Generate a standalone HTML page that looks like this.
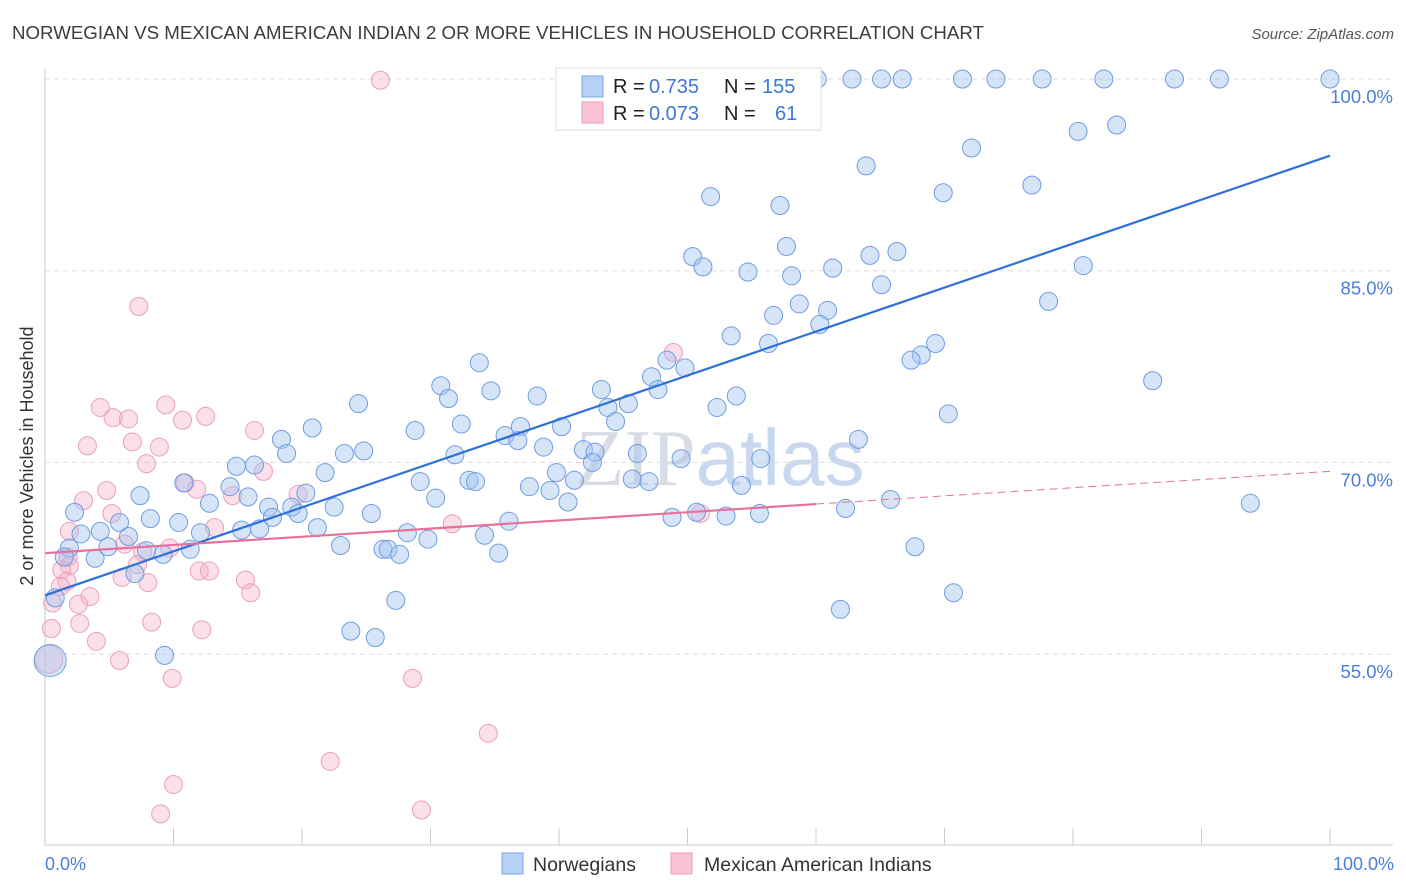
<!DOCTYPE html>
<html><head><meta charset="utf-8"><style>
body{margin:0;background:#fff;font-family:"Liberation Sans",sans-serif;}
#wrap{position:relative;width:1406px;height:892px;overflow:hidden;}
</style></head><body>
<div id="wrap">
<svg id="svg" width="1406" height="892" xmlns="http://www.w3.org/2000/svg">
<text x="12" y="39" font-size="18.7" fill="#3c3c3c">NORWEGIAN VS MEXICAN AMERICAN INDIAN 2 OR MORE VEHICLES IN HOUSEHOLD CORRELATION CHART</text>
<text x="1394" y="39" font-size="15" font-style="italic" fill="#555" text-anchor="end">Source: ZipAtlas.com</text>
<text transform="translate(33,456) rotate(-90)" font-size="18" fill="#333" text-anchor="middle">2 or more Vehicles in Household</text>
<text x="720" y="485" font-size="80" fill="#d8dce4" text-anchor="middle" font-family="Liberation Serif,serif">ZIP<tspan fill="#c8d8f0" font-family="Liberation Sans,sans-serif">atlas</tspan></text>
<g id="grid"></g><g id="pts"></g><g id="lines"></g>
<g>
<rect x="556" y="68" width="265" height="62" fill="#fff" stroke="#ddd"/>
<rect x="582" y="76" width="21" height="21" fill="#b7d0f5" stroke="#7aa4e6"/>
<rect x="582" y="102" width="21" height="21" fill="#f9c4d4" stroke="#ee9ab6"/>
<text x="613" y="93" font-size="20" fill="#222">R = <tspan x="649" fill="#3a78d8">0.735</tspan><tspan x="724">N = </tspan><tspan x="762" fill="#3a78d8">155</tspan></text>
<text x="613" y="120" font-size="20" fill="#222">R = <tspan x="649" fill="#3a78d8">0.073</tspan><tspan x="724">N = </tspan><tspan x="775" fill="#3a78d8">61</tspan></text>
</g>
<g>
<rect x="502" y="853" width="21" height="21" fill="#b7d0f5" stroke="#7aa4e6"/>
<text x="533" y="871" font-size="19.5" fill="#333">Norwegians</text>
<rect x="671" y="853" width="21" height="21" fill="#f9c4d4" stroke="#ee9ab6"/>
<text x="704" y="871" font-size="19.5" fill="#333">Mexican American Indians</text>
</g>
<text x="45" y="870" font-size="18" fill="#4a7fd8">0.0%</text>
<text x="1394" y="870" font-size="18" fill="#4a7fd8" text-anchor="end">100.0%</text>
</svg>
</div>
<script>
const yTicks=[100,85,70,55];
const yTickLabels=["100.0%","85.0%","70.0%","55.0%"];
const xTicks=[0,10,20,30,40,50,60,70,80,90,100];
const blueX=[100,91.4,87.9,82.4,77.6,74.0,71.4,66.7,65.1,62.8,60.1,83.4,80.4,72.1,63.9,76.8,69.9,51.8,57.2,66.3,64.2,57.7,50.4,51.2,54.7,58.1,61.3,80.8,65.1,78.1,58.7,60.9,56.7,60.3,53.4,56.3,69.3,68.2,67.4,48.4,49.8,33.8,86.2,30.8,34.7,31.4,43.3,47.2,47.7,38.3,53.8,24.4,45.4,43.8,52.3,70.3,32.4,44.4,37.0,20.8,28.8,18.4,35.8,36.8,40.2,63.3,18.8,38.8,31.9,41.9,42.8,49.5,42.6,46.1,55.7,24.8,23.3,14.9,16.3,21.8,39.8,33.0,33.5,41.2,45.7,47.0,54.2,37.7,39.3,40.7,29.2,30.4,14.4,15.8,10.8,7.4,20.3,12.8,17.4,17.7,19.2,19.7,22.5,25.4,65.8,93.8,62.3,36.1,21.2,10.4,8.2,5.8,2.3,15.3,16.7,12.1,28.2,29.8,34.2,4.3,2.8,6.5,9.2,7.9,11.3,23.0,26.3,26.7,27.6,35.3,50.7,48.8,53.0,55.6,67.7,1.9,1.5,3.9,4.9,7.0,0.8,27.3,61.9,70.7,23.8,25.7,9.3,0.4];
const blueY=[100,100,100,100,100,100,100,100,100,100,100,96.4,95.9,94.6,93.2,91.7,91.1,90.8,90.1,86.5,86.2,86.9,86.1,85.3,84.9,84.6,85.2,85.4,83.9,82.6,82.4,81.9,81.5,80.8,79.9,79.3,79.3,78.4,78.0,78.0,77.4,77.8,76.4,76.0,75.6,75.0,75.7,76.7,75.7,75.2,75.2,74.6,74.6,74.3,74.3,73.8,73.0,73.2,72.8,72.7,72.5,71.8,72.1,71.7,72.8,71.8,70.7,71.2,70.6,71.0,70.8,70.3,70.0,70.7,70.3,70.9,70.7,69.7,69.8,69.2,69.2,68.6,68.5,68.6,68.7,68.5,68.2,68.1,67.8,66.9,68.5,67.2,68.1,67.3,68.4,67.4,67.6,66.8,66.5,65.7,66.5,66.0,66.5,66.0,67.1,66.8,66.4,65.4,64.9,65.3,65.6,65.3,66.1,64.7,64.8,64.5,64.5,64.0,64.3,64.6,64.4,64.2,62.8,63.1,63.2,63.5,63.2,63.2,62.8,62.9,66.1,65.7,65.8,66.0,63.4,63.3,62.6,62.5,63.4,61.3,59.4,59.2,58.5,59.8,56.8,56.3,54.9,54.5];
const pinkX=[26.1,7.3,4.3,5.3,6.5,9.4,10.7,12.5,3.3,6.8,8.9,7.9,16.3,17.0,10.9,11.8,14.6,19.7,3.0,4.8,5.2,1.9,13.2,6.2,7.6,9.7,31.7,51.0,48.9,1.8,1.9,7.2,1.3,1.7,1.2,6.0,8.0,15.6,12.0,12.8,16.0,3.5,2.6,0.6,0.5,2.7,8.3,12.2,4.0,5.8,9.9,28.6,34.5,22.2,10.0,9.0,29.3,0.3];
const pinkY=[99.9,82.2,74.3,73.5,73.4,74.5,73.3,73.6,71.3,71.6,71.2,69.9,72.5,69.3,68.4,67.9,67.4,67.5,67.0,67.8,66.0,64.6,64.9,63.6,63.0,63.3,65.2,66.0,78.6,62.6,61.9,62.0,61.6,60.7,60.3,61.0,60.6,60.8,61.5,61.5,59.8,59.5,58.9,59.0,57.0,57.4,57.5,56.9,56.0,54.5,53.1,53.1,48.8,46.6,44.8,42.5,42.8,54.6];
const blueLine=[59.6,94.0];
const pinkLine=[62.9,69.3];
const pinkSolidEnd=60;
const NS="http://www.w3.org/2000/svg";
const xs=v=>45+v*12.85, ys=v=>79+(100-v)*12.78;
function mk(t,a,p){const e=document.createElementNS(NS,t);for(const k in a)e.setAttribute(k,a[k]);p.appendChild(e);return e;}
const grid=document.getElementById('grid');
yTicks.forEach((t,i)=>{
 const l=mk('line',{x1:45,x2:1393,y1:ys(t),y2:ys(t),stroke:'#ddd','stroke-dasharray':'5,4'},grid);
 
 
 const tx=mk('text',{x:1393,y:ys(t)+24,'font-size':18.5,fill:'#4a7fd8','text-anchor':'end'},grid);
 tx.textContent=yTickLabels[i];
 
 
});
mk('line',{x1:45,x2:45,y1:68,y2:845,stroke:'#ccc'},grid);
mk('line',{x1:45,x2:1393,y1:845,y2:845,stroke:'#ccc'},grid);
xTicks.forEach(t=>{const l=mk('line',{x1:xs(t),x2:xs(t),y1:828,y2:845,stroke:'#ccc'},grid);
 
 });
const pts=document.getElementById('pts');
pinkX.forEach((x,i)=>{const r=(i==pinkX.length-1)?14:9;
 const c=mk('circle',{cx:xs(x),cy:ys(pinkY[i]),r:r,fill:'rgba(246,175,200,0.4)',stroke:'#eaa0bc','stroke-width':1},pts);
 
 });
blueX.forEach((x,i)=>{const r=(i==blueX.length-1)?16:9;
 const c=mk('circle',{cx:xs(x),cy:ys(blueY[i]),r:r,fill:'rgba(165,195,240,0.45)',stroke:'#6f9de0','stroke-width':1},pts);
 
 });
const lines=document.getElementById('lines');
const pl=v=>pinkLine[0]+(pinkLine[1]-pinkLine[0])*v/100;
let a=mk('line',{x1:xs(0),y1:ys(blueLine[0]),x2:xs(100),y2:ys(blueLine[1]),stroke:'#2f6fd8','stroke-width':2.2},lines);


let b=mk('line',{x1:xs(0),y1:ys(pl(0)),x2:xs(pinkSolidEnd),y2:ys(pl(pinkSolidEnd)),stroke:'#e8709a','stroke-width':2.2},lines);


let c=mk('line',{x1:xs(pinkSolidEnd),y1:ys(pl(pinkSolidEnd)),x2:xs(100),y2:ys(pl(100)),stroke:'#e8709a','stroke-width':1,'stroke-dasharray':'8,5'},lines);


</script>
</body></html>
